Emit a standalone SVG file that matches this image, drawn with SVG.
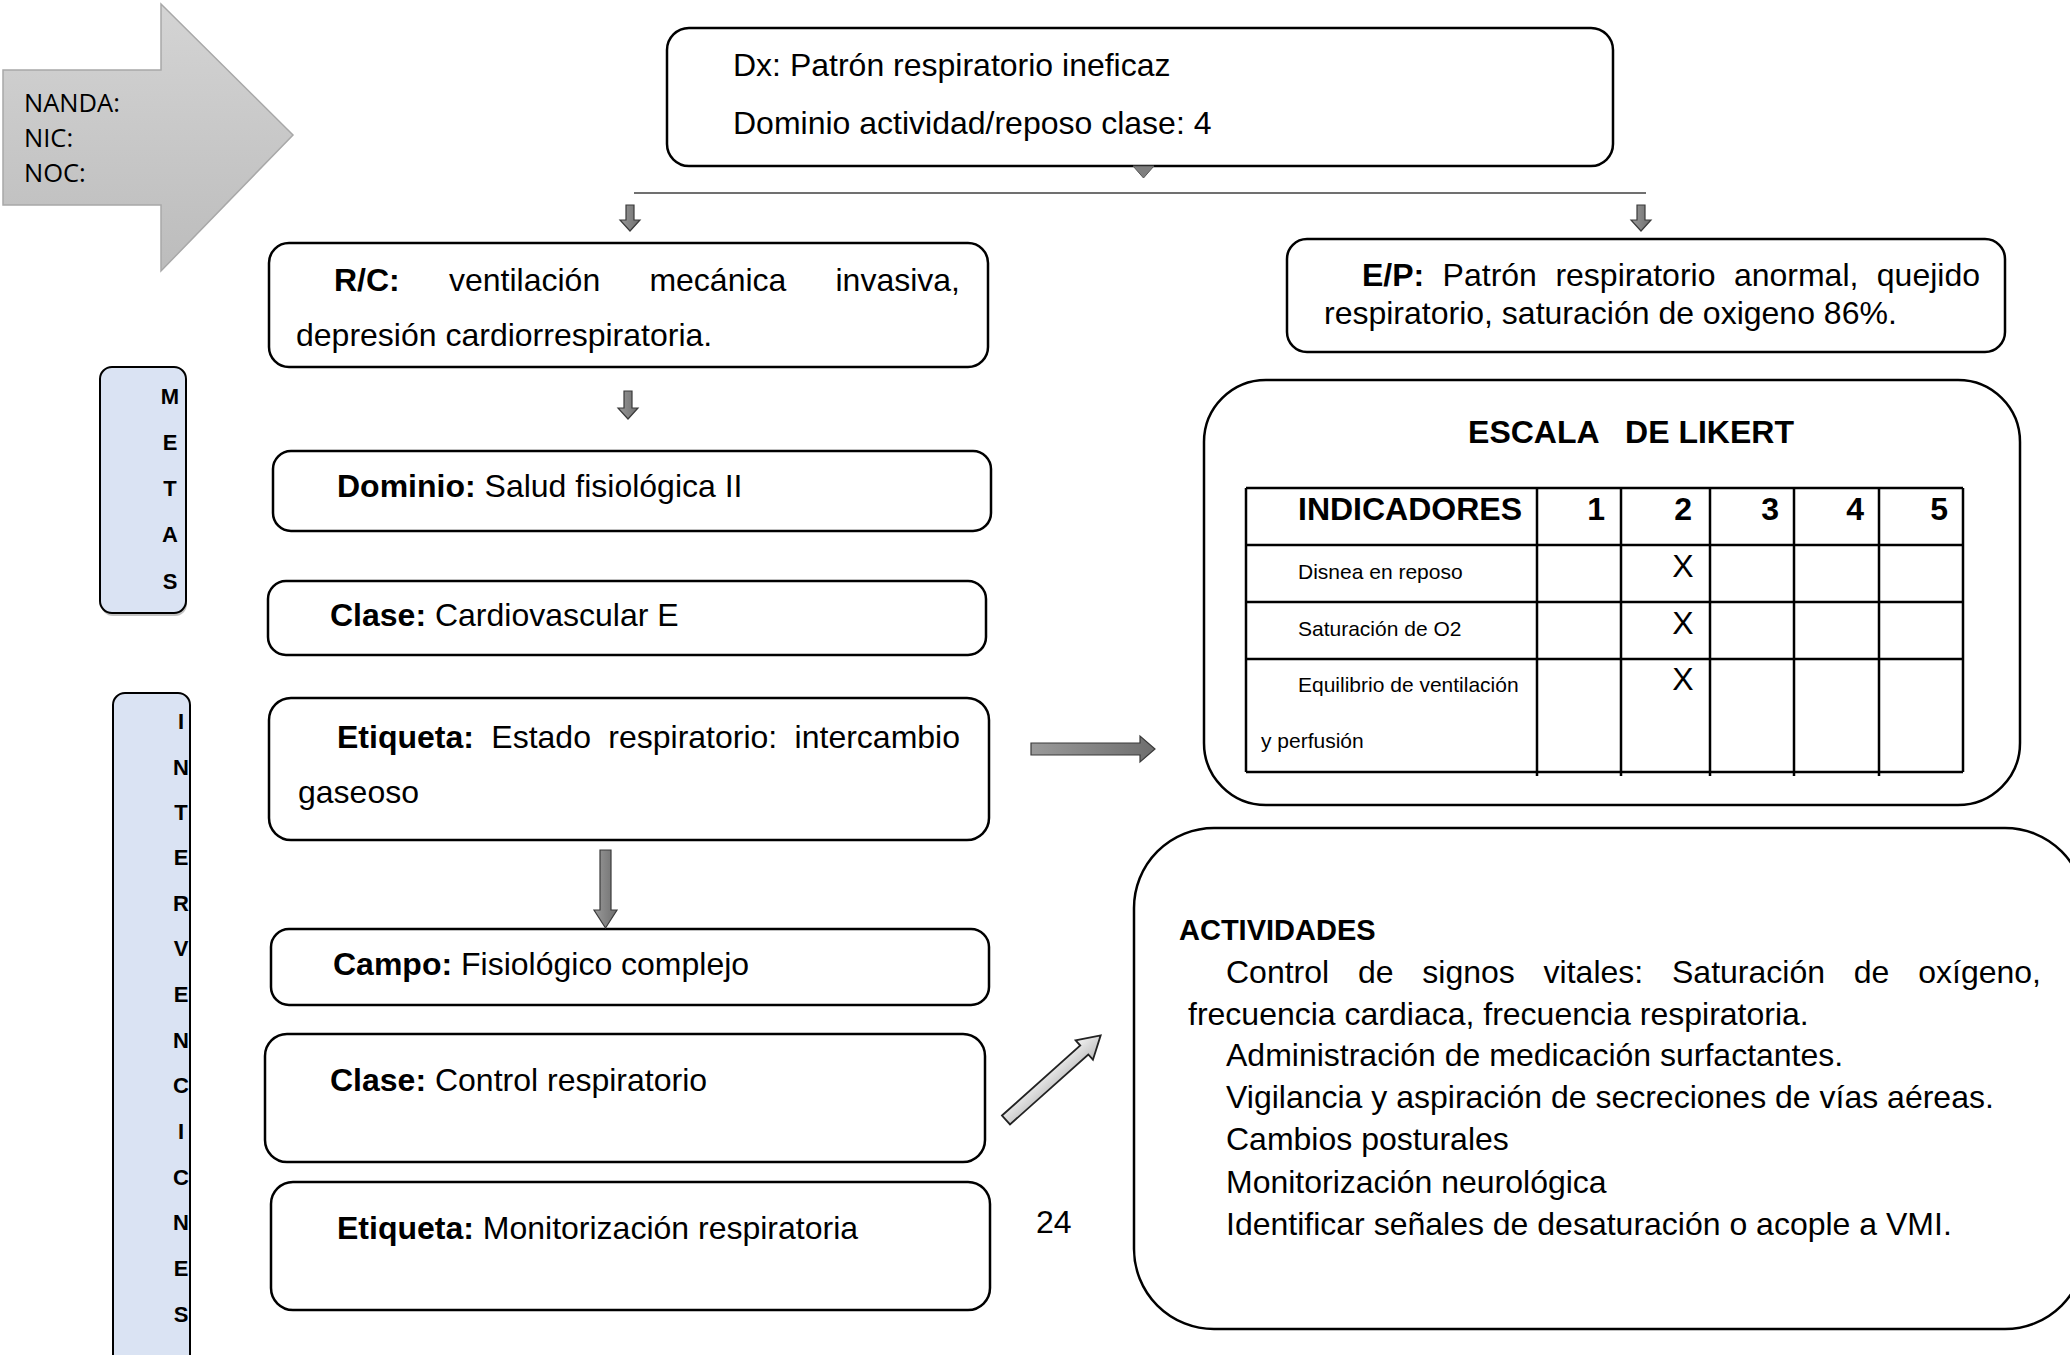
<svg xmlns="http://www.w3.org/2000/svg" width="2070" height="1355" viewBox="0 0 2070 1355">
<defs>
<linearGradient id="gBig" x1="0" y1="0" x2="0" y2="1"><stop offset="0" stop-color="#d4d4d4"/><stop offset="1" stop-color="#bcbcbc"/></linearGradient>
<linearGradient id="gDark" x1="0" y1="0" x2="1" y2="0"><stop offset="0" stop-color="#9a9a9a"/><stop offset="1" stop-color="#6e6e6e"/></linearGradient>
<linearGradient id="gLight" x1="0" y1="0" x2="0" y2="1"><stop offset="0" stop-color="#f4f4f4"/><stop offset="1" stop-color="#bdbdbd"/></linearGradient>
<clipPath id="clipInt"><rect x="113" y="693" width="76" height="680" rx="12"/></clipPath>
<style>
text{font-family:"Liberation Sans",Arial,sans-serif;fill:#000}
.t32{font-size:32px}
.b{font-weight:bold}
.box{fill:#fff;stroke:#000;stroke-width:2.5}
.side{fill:#dae3f3;stroke:#000;stroke-width:2}
.shadow{fill:#9a9a9a;opacity:.6}
.letter{font-size:22px;font-weight:bold;text-anchor:middle}
.arr{fill:url(#gDark);stroke:#3a3a3a;stroke-width:1.2}
.tbl{stroke:#000;stroke-width:2.5;fill:none}
.cell{font-size:21px}
.num{font-size:32px;font-weight:bold;text-anchor:end}
.xm{font-size:32px;text-anchor:middle}
.os{font-family:"Open Sans","Liberation Sans",sans-serif;font-size:25.5px}
</style>
</defs>
<rect width="2070" height="1355" fill="#fff"/>

<g id="node-nanda">
<path d="M3,70 H161 V4 L293,135 L161,271 V205 H3 Z" fill="url(#gBig)" stroke="#a8a8a8" stroke-width="1.5"/>
<text class="os" x="24" y="112">NANDA:</text>
<text class="os" x="24" y="147">NIC:</text>
<text class="os" x="24" y="182">NOC:</text>
</g>

<g id="node-dx">
<rect class="box" x="667" y="28" width="946" height="138" rx="22"/>
<text class="t32" x="733" y="76">Dx: Patrón respiratorio ineficaz</text>
<text class="t32" x="733" y="134">Dominio actividad/reposo clase: 4</text>
</g>

<g id="node-rc">
<rect class="box" x="269" y="243" width="719" height="124" rx="20"/>
<text class="t32" y="291"><tspan class="b" x="334">R/C:</tspan><tspan x="449">ventilación</tspan><tspan x="649.4">mecánica</tspan><tspan x="835.5">invasiva,</tspan></text>
<text class="t32" x="296" y="346">depresión cardiorrespiratoria.</text>
</g>

<g id="node-ep">
<rect class="box" x="1287" y="239" width="718" height="113" rx="20"/>
<text class="t32" y="286"><tspan class="b" x="1362">E/P:</tspan><tspan x="1442.6">Patrón</tspan><tspan x="1555.4">respiratorio</tspan><tspan x="1733.9">anormal,</tspan><tspan x="1876.8">quejido</tspan></text>
<text class="t32" x="1324" y="324">respiratorio, saturación de oxigeno 86%.</text>
</g>

<g id="node-metas">
<rect class="shadow" x="101" y="370" width="86" height="246" rx="12"/>
<rect class="side" x="100" y="367" width="86" height="246" rx="12"/>
<text class="letter" x="170" y="404">M</text>
<text class="letter" x="170" y="450">E</text>
<text class="letter" x="170" y="496">T</text>
<text class="letter" x="170" y="542">A</text>
<text class="letter" x="170" y="589">S</text>
</g>

<g id="node-intervenciones">
<rect class="side" x="113" y="693" width="77" height="680" rx="12"/>
<g clip-path="url(#clipInt)">
<text class="letter" x="181" y="729">I</text>
<text class="letter" x="181" y="775">N</text>
<text class="letter" x="181" y="820">T</text>
<text class="letter" x="181" y="865">E</text>
<text class="letter" x="181" y="911">R</text>
<text class="letter" x="181" y="956">V</text>
<text class="letter" x="181" y="1002">E</text>
<text class="letter" x="181" y="1048">N</text>
<text class="letter" x="181" y="1093">C</text>
<text class="letter" x="181" y="1139">I</text>
<text class="letter" x="181" y="1185">C</text>
<text class="letter" x="181" y="1230">N</text>
<text class="letter" x="181" y="1276">E</text>
<text class="letter" x="181" y="1322">S</text>
</g>
</g>

<g id="node-dominio">
<rect class="box" x="273" y="451" width="718" height="80" rx="18"/>
<text class="t32" x="337" y="497"><tspan class="b">Dominio:</tspan> Salud fisiológica II</text>
</g>

<g id="node-clase1">
<rect class="box" x="268" y="581" width="718" height="74" rx="18"/>
<text class="t32" x="330" y="626"><tspan class="b">Clase:</tspan> Cardiovascular E</text>
</g>

<g id="node-etiqueta1">
<rect class="box" x="269" y="698" width="720" height="142" rx="22"/>
<text class="t32" y="748"><tspan class="b" x="337">Etiqueta:</tspan><tspan x="491.3">Estado</tspan><tspan x="608.3">respiratorio:</tspan><tspan x="794.6">intercambio</tspan></text>
<text class="t32" x="298" y="803">gaseoso</text>
</g>

<g id="node-campo">
<rect class="box" x="271" y="929" width="718" height="76" rx="18"/>
<text class="t32" x="333" y="975"><tspan class="b">Campo:</tspan> Fisiológico complejo</text>
</g>

<g id="node-clase2">
<rect class="box" x="265" y="1034" width="720" height="128" rx="22"/>
<text class="t32" x="330" y="1091"><tspan class="b">Clase:</tspan> Control respiratorio</text>
</g>

<g id="node-etiqueta2">
<rect class="box" x="271" y="1182" width="719" height="128" rx="22"/>
<text class="t32" x="337" y="1239"><tspan class="b">Etiqueta:</tspan> Monitorización respiratoria</text>
</g>

<g id="page-number">
<text class="t32" x="1036" y="1233">24</text>
</g>

<g id="node-likert">
<rect class="box" x="1204" y="380" width="816" height="425" rx="62"/>
<text class="t32 b" x="1631" y="443" text-anchor="middle" xml:space="preserve">ESCALA   DE LIKERT</text>
<path class="tbl" d="M1246,488 H1963 M1246,545 H1963 M1246,602 H1963 M1246,659 H1963 M1246,772 H1963 M1246,488 V772 M1537,488 V776 M1621,488 V776 M1710,488 V776 M1794,488 V776 M1879,488 V776 M1963,488 V772"/>
<text class="t32 b" x="1298" y="520">INDICADORES</text>
<text class="num" x="1605" y="520">1</text>
<text class="num" x="1692" y="520">2</text>
<text class="num" x="1779" y="520">3</text>
<text class="num" x="1864" y="520">4</text>
<text class="num" x="1948" y="520">5</text>
<text class="cell" x="1298" y="579">Disnea en reposo</text>
<text class="cell" x="1298" y="636">Saturación de O2</text>
<text class="cell" x="1298" y="692">Equilibrio de ventilación</text>
<text class="cell" x="1261" y="748">y perfusión</text>
<text class="xm" x="1683" y="577">X</text>
<text class="xm" x="1683" y="634">X</text>
<text class="xm" x="1683" y="690">X</text>
</g>

<g id="node-actividades">
<rect class="box" x="1134" y="828" width="951" height="501" rx="80"/>
<text class="b" style="font-size:29px" x="1179" y="940">ACTIVIDADES</text>
<text class="t32" y="983"><tspan x="1226">Control</tspan><tspan x="1357.9">de</tspan><tspan x="1422.3">signos</tspan><tspan x="1543.6">vitales:</tspan><tspan x="1672">Saturación</tspan><tspan x="1853.8">de</tspan><tspan x="1918.2">oxígeno,</tspan></text>
<text class="t32" x="1188" y="1025">frecuencia cardiaca, frecuencia respiratoria.</text>
<text class="t32" x="1226" y="1066">Administración de medicación surfactantes.</text>
<text class="t32" x="1226" y="1108">Vigilancia y aspiración de secreciones de vías aéreas.</text>
<text class="t32" x="1226" y="1150">Cambios posturales</text>
<text class="t32" x="1226" y="1193">Monitorización neurológica</text>
<text class="t32" x="1226" y="1235">Identificar señales de desaturación o acople a VMI.</text>
</g>

<g id="connectors">
<path d="M1133,166 H1154 L1143.5,178 Z" fill="#7f7f7f" stroke="#555" stroke-width="1"/>
<line x1="634" y1="193" x2="1646" y2="193" stroke="#404040" stroke-width="1.6"/>
<path class="arr" d="M626,205 H634 V220 H640 L630,231 L620,220 H626 Z"/>
<path class="arr" d="M1637,205 H1645 V220 H1651 L1641,231 L1631,220 H1637 Z"/>
<path class="arr" d="M624,391 H632 V408 H638 L628,419 L618,408 H624 Z"/>
<path class="arr" d="M600,850 H611 V910 H617 L605.5,928 L594,910 H600 Z"/>
<path class="arr" d="M1031,743 H1140 V736 L1155,749 L1140,762 V755 H1031 Z"/>
<path d="M0,-6 H105 V-13 L127,0 L105,13 V6 H0 Z" transform="translate(1006,1120) rotate(-41.8)" fill="url(#gLight)" stroke="#222" stroke-width="1.8"/>
</g>
</svg>
